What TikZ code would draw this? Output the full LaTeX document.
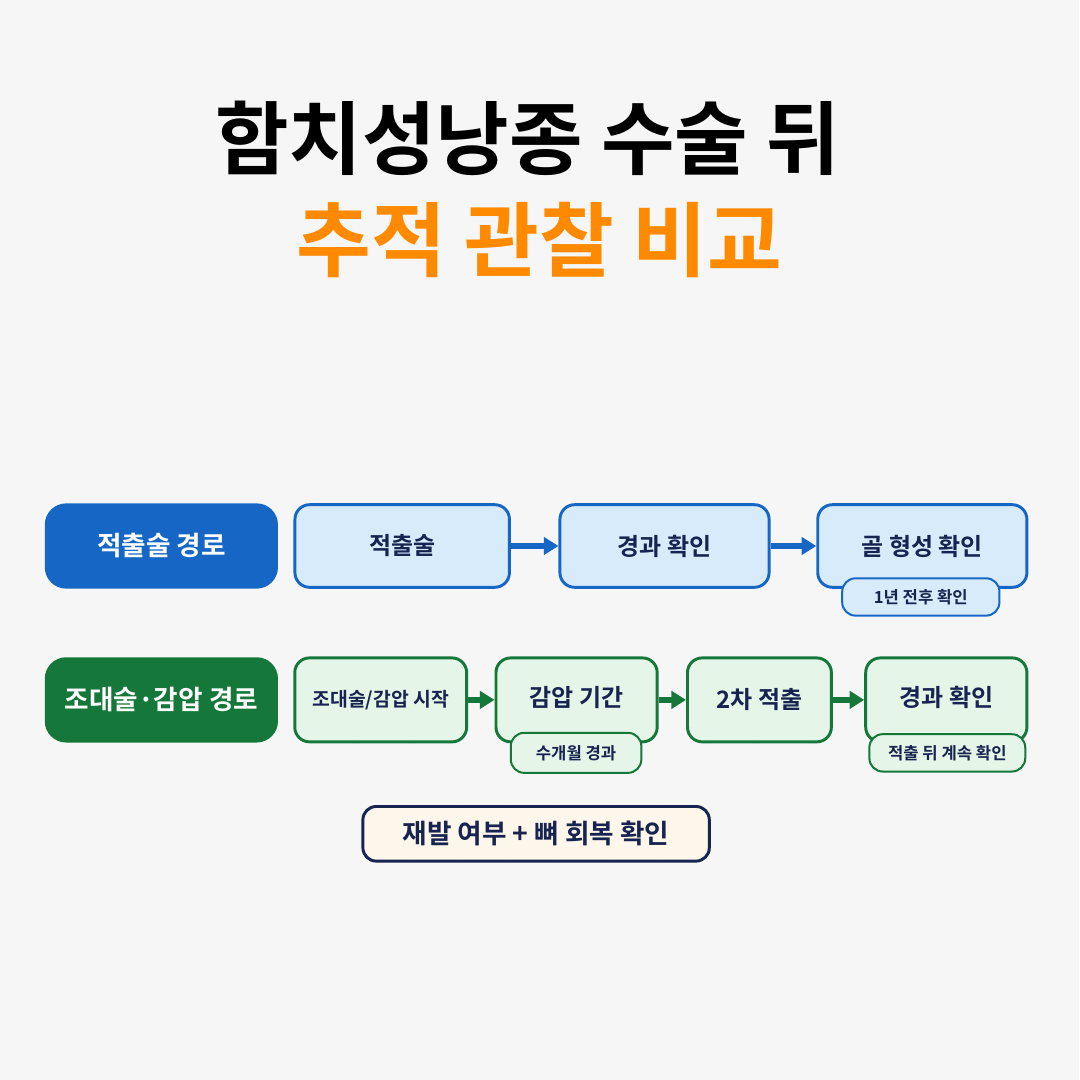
\documentclass[tikz,border=0pt]{standalone}
\usepackage{fontspec}
\setmainfont{Noto Sans CJK KR}[BoldFont={Noto Sans CJK KR Bold}]
\usetikzlibrary{arrows.meta}
\definecolor{bg}{HTML}{F6F6F7}
\definecolor{navy}{HTML}{172350}
\definecolor{bl}{HTML}{1666C5}
\definecolor{lbl}{HTML}{D8EBFB}
\definecolor{gr}{HTML}{15783A}
\definecolor{lgr}{HTML}{E5F5E7}
\definecolor{org}{HTML}{FF8A00}
\definecolor{crm}{HTML}{FCF7EA}
\begin{document}
\begin{tikzpicture}[x=0.75pt,y=-0.75pt,
 box/.style={rounded corners=11pt,line width=2.2pt,text=navy,font=\bfseries\fontsize{18}{21}\selectfont,inner sep=0},
 bbox/.style={box,draw=bl,fill=lbl},
 gbox/.style={box,draw=gr,fill=lgr},
 tab/.style={rounded corners=10pt,line width=1.5pt,text=navy,font=\bfseries\fontsize{12.5}{15}\selectfont,inner sep=0},
 lab/.style={rounded corners=16pt,text=white,font=\bfseries\fontsize{20}{23}\selectfont,inner sep=0},
 arr/.style={-{Triangle[length=11pt,width=13pt]},line width=4pt}]
\fill[bg] (0,0) rectangle (1080,1080);
\foreach \x in {60,110,...,1060} \draw[white!92!gray,line width=0.6pt] (\x,0) -- (\x,1080);
\node[font=\bfseries\fontsize{60}{64}\selectfont] (t1) at (528,138) {함치성낭종 수술 뒤};
\node[font=\bfseries\fontsize{61}{64}\selectfont,text=org] (t2) at (540,240) {추적 관찰 비교};
% row 1
\node[lab,fill=bl,minimum width=175pt,minimum height=64pt] (l1) at (161.5,546) {적출술 경로};
\node[bbox,minimum width=161pt,minimum height=62pt] (a1) at (402.5,546) {적출술};
\node[bbox,minimum width=157pt,minimum height=62pt] (a2) at (665,546) {경과 확인};
\node[bbox,minimum width=157pt,minimum height=62pt] (a3) at (923,546) {골 형성 확인};
\node[tab,draw=bl,fill=lbl,minimum width=118pt,minimum height=28pt] (s1) at (921.5,597) {1년 전후 확인};
\draw[arr,bl] (a1) -- (a2);
\draw[arr,bl] (a2) -- (a3);
% row 2
\node[lab,fill=gr,minimum width=175pt,minimum height=64pt] (l2) at (161.5,700) {조대술·감압 경로};
\node[gbox,minimum width=129pt,minimum height=63pt,font=\bfseries\fontsize{14.5}{17}\selectfont] (b1) at (381,700) {조대술/감압 시작};
\node[gbox,minimum width=121pt,minimum height=63pt] (b2) at (577,700) {\raisebox{5pt}{감압 기간}};
\node[gbox,minimum width=108pt,minimum height=63pt] (b3) at (760,700) {2차 적출};
\node[gbox,minimum width=121pt,minimum height=63pt] (b4) at (947,700) {\raisebox{5pt}{경과 확인}};
\node[tab,draw=gr,fill=lgr,minimum width=98pt,minimum height=30pt] (s2) at (576.5,753) {수개월 경과};
\node[tab,draw=gr,fill=lgr,minimum width=117pt,minimum height=28pt] (s3) at (948,753) {적출 뒤 계속 확인};
\draw[arr,gr] (b1) -- (b2);
\draw[arr,gr] (b2) -- (b3);
\draw[arr,gr] (b3) -- (b4);
\node[box,draw=navy,fill=crm,minimum width=260pt,minimum height=41pt,rounded corners=10pt,font=\bfseries\fontsize{20}{23}\selectfont] (c) at (536.5,834) {재발 여부 + 뼈 회복 확인};
\end{tikzpicture}
\end{document}
